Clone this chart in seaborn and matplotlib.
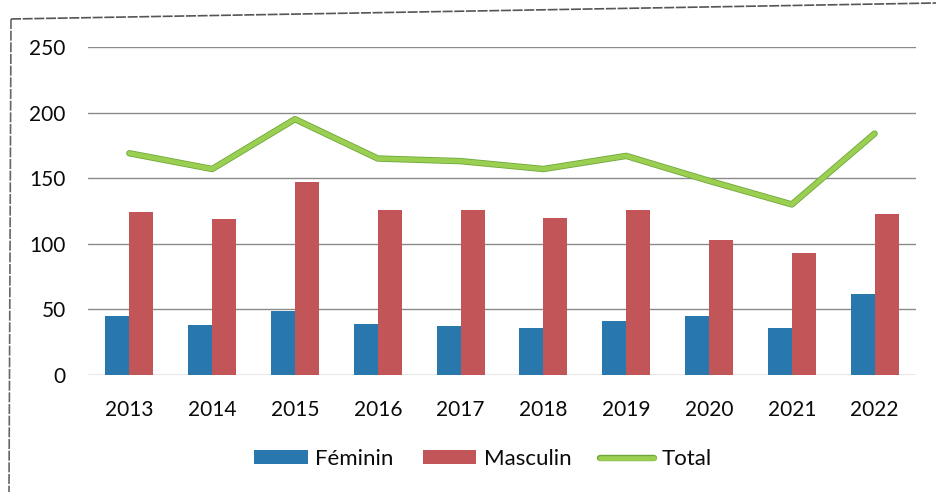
import numpy as np
import pandas as pd
import matplotlib
matplotlib.use("Agg")
import matplotlib.pyplot as plt
import matplotlib.patheffects as pe
from matplotlib.patches import Patch
from matplotlib.lines import Line2D
import seaborn as sns

years = ["2013", "2014", "2015", "2016", "2017", "2018", "2019", "2020", "2021", "2022"]
feminin = [45, 38, 49, 39, 37, 36, 41, 45, 36, 62]
masculin = [124, 119, 147, 126, 126, 120, 126, 103, 93, 123]
total = [169, 157, 195, 165, 163, 157, 167, 148, 130, 184]
yticks = [0, 50, 100, 150, 200, 250]

c_fem = "#2878ad"
c_mas = "#c25557"
c_tot = "#9bcf52"
c_tot_edge = "#6ea83a"

sns.set_theme(style="white")
plt.rcParams["font.family"] = ["Lato", "DejaVu Sans"]

df = pd.DataFrame({"Année": years * 2,
                   "Valeur": feminin + masculin,
                   "Sexe": ["Féminin"] * len(years) + ["Masculin"] * len(years)})

fig = plt.figure(figsize=(9.36, 4.92), dpi=100)
ax = fig.add_axes([88 / 936, 1 - 375 / 492, (916 - 88) / 936, (375 - 47) / 492])

sns.barplot(data=df, x="Année", y="Valeur", hue="Sexe", order=years,
            palette={"Féminin": c_fem, "Masculin": c_mas}, width=0.58,
            saturation=1, ax=ax, legend=False, linewidth=0)

sns.lineplot(x=np.arange(len(years)), y=total, ax=ax, color=c_tot, linewidth=3.4,
             path_effects=[pe.Stroke(linewidth=4.6, foreground=c_tot_edge), pe.Normal()])

ax.set_xlim(-0.5, len(years) - 0.5)
ax.set_ylim(0, 250)
ax.set_yticks(yticks)
ax.set_yticklabels([str(v) for v in yticks])
ax.set_xlabel("")
ax.set_ylabel("")
for v in yticks:
    ax.axhline(v, color="#8a8a8a", linewidth=1.0, zorder=0.5)
for s in ax.spines.values():
    s.set_visible(False)
ax.tick_params(axis="y", length=0, pad=16, labelsize=15, labelcolor="#0a0a0a")
ax.tick_params(axis="x", length=0, pad=18, labelsize=15, labelcolor="#0a0a0a")

handles = [Patch(facecolor=c_fem, edgecolor="none"),
           Patch(facecolor=c_mas, edgecolor="none"),
           Line2D([], [], color=c_tot, linewidth=3.4,
                  path_effects=[pe.Stroke(linewidth=4.6, foreground=c_tot_edge), pe.Normal()])]
fig.legend(handles, ["Féminin", "Masculin", "Total"], loc="center",
           bbox_to_anchor=(0.516, 1 - 459 / 492), ncol=3, frameon=False,
           fontsize=16, handlelength=2.4, handleheight=0.6, handletextpad=0.35,
           columnspacing=1.3, labelcolor="#0a0a0a")

# scanned frame border
fig.add_artist(Line2D([11 / 936, 1.0], [1 - 19 / 492, 1 - 3 / 492],
                      transform=fig.transFigure, color="#555555", linewidth=1.2, linestyle=(0, (6, 1))))
fig.add_artist(Line2D([11 / 936, 9 / 936], [1 - 19 / 492, 0.0],
                      transform=fig.transFigure, color="#666666", linewidth=1.2, linestyle=(0, (6, 1))))

fig.savefig("out.png", dpi=100)
